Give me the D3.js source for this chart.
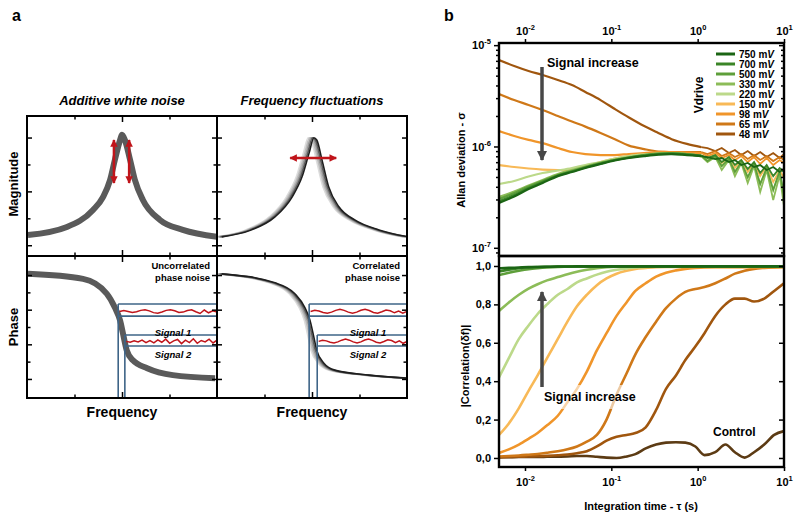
<!DOCTYPE html>
<html>
<head>
<meta charset="utf-8">
<script src="https://cdn.jsdelivr.net/npm/d3@7"></script>
<style>
  body { margin: 0; background: #fff; }
  svg { font-family: "Liberation Sans", Arial, sans-serif; font-weight: bold; }
</style>
</head>
<body>
<div id="fig"></div>
<script>
// ---------- panel a : schematic resonance (frequency in arbitrary units) ----------
const freqTicks = [1, 2, 3];
const magTicks = [0.4, 1.4, 2.4, 3.4, 4.4];
const phaseTicks = [0, 1, 2, 3, 4, 5, 6];

// additive white noise
const magFreqL = [0.02, 0.84, 1.39, 1.6, 1.75, 1.85, 1.96, 2.0, 2.06, 2.17, 2.27, 2.44, 2.8, 3.28, 4.0];
const magL     = [0.78, 1.08, 1.71, 2.19, 2.83, 3.57, 4.31, 4.5, 4.31, 3.57, 2.83, 2.08, 1.34, 0.97, 0.71];
const phFreqL  = [0.02, 1.18, 1.68, 1.85, 1.96, 2.02, 2.1, 2.23, 2.53, 3.07, 3.96];
const phL      = [6.07, 5.78, 4.92, 4.12, 3.37, 2.63, 1.65, 1.08, 0.62, 0.22, 0.04];

// frequency fluctuations
const magFreqR = [0.06, 0.69, 1.18, 1.54, 1.75, 1.9, 2.0, 2.06, 2.17, 2.31, 2.53, 2.86, 3.37, 4.0];
const magR     = [0.71, 0.97, 1.45, 2.19, 2.94, 3.83, 4.39, 4.31, 3.57, 2.57, 1.82, 1.34, 0.97, 0.71];
const phFreqR  = [0.06, 1.18, 1.6, 1.81, 1.92, 2.0, 2.06, 2.21, 2.44, 3.16, 4.0];
const phR      = [6.07, 5.55, 4.92, 4.12, 3.37, 2.4, 1.65, 0.91, 0.51, 0.22, 0.04];
const fluctShift = [-0.08, -0.05, -0.02, 0.01, 0.04];
const fluctGrey  = ["#dcdcdc", "#bdbdbd", "#999999", "#5e5e5e", "#1e1e1e"];

// read-out bands and phase signals
const band1 = [4.33, 3.63], band2 = [2.54, 1.90];
const cutUncorr = [1.92, 2.06], cutCorr = [1.94, 2.11];
const sig1Uncorr = [3.89, 3.95, 3.9, 3.84, 3.88, 3.96, 4.0, 3.93, 3.83, 3.8, 3.87, 3.96, 4.0, 3.94, 3.84, 3.86, 3.95, 3.99, 3.88, 3.78, 3.98, 3.82, 3.93, 3.86];
const sig2Uncorr = [2.17, 2.12, 2.2, 2.14, 2.24, 2.1, 2.22, 2.08, 2.26, 2.12, 2.3, 2.06, 2.2, 2.28, 2.04, 2.24, 2.1, 2.32, 2.06, 2.22, 2.14, 2.3, 2.08, 2.24];
const sig1Corr = [3.89, 3.96, 3.92, 3.84, 3.8, 3.86, 3.96, 4.02, 3.96, 3.86, 3.8, 3.86, 3.97, 4.02, 3.95, 3.84, 3.8, 3.88, 3.98, 3.94, 3.82, 3.92, 3.8, 3.9];
const sig2Corr = [2.17, 2.24, 2.2, 2.12, 2.08, 2.14, 2.24, 2.3, 2.24, 2.14, 2.08, 2.14, 2.25, 2.3, 2.23, 2.12, 2.08, 2.16, 2.26, 2.22, 2.1, 2.2, 2.06, 2.16];

// red arrows (data units)
const ampArrowF = [1.83, 2.15], ampArrowMag = [4.31, 2.71];
const freqArrowF = [1.54, 2.51], freqArrowMag = 3.64;

// ---------- panel b : Allan deviation and correlation ----------
const tauTicks = [0.01, 0.1, 1, 10];
const tauExps = ["-2", "-1", "0", "1"];
const allanTicks = [1e-7, 1e-6, 1e-5];
const allanExps = ["-7", "-6", "-5"];
const corrTicks = [0, 0.2, 0.4, 0.6, 0.8, 1.0];
const corrTickLabels = ["0,0", "0,2", "0,4", "0,6", "0,8", "1,0"];

const vdrive = ["750 mV", "700 mV", "500 mV", "330 mV", "220 mV", "150 mV", "98 mV", "65 mV", "48 mV"];
const vColors = ["#1b6514", "#3b8527", "#5e9f3a", "#8cbc58", "#bcd98a", "#f8b957", "#f0952a", "#cf7818", "#a0560e"];

const tauA = [0.005, 0.0075, 0.011, 0.016, 0.024, 0.035, 0.05, 0.075, 0.11, 0.16, 0.24, 0.35, 0.5, 0.75,
              1.1, 1.3, 1.6, 1.9, 2.3, 2.7, 3.2, 3.8, 4.5, 5.3, 6.3, 7.5, 8.9, 10];
const allan750 = [2.77e-7, 3.21e-7, 3.80e-7, 4.36e-7, 5.10e-7, 5.60e-7, 6.13e-7, 6.71e-7, 7.27e-7, 7.69e-7, 8.04e-7, 8.32e-7, 8.42e-7, 8.23e-7, 8.04e-7, 7.86e-7, 7.52e-7, 7.69e-7, 7.02e-7, 7.35e-7, 6.56e-7, 6.87e-7, 6.27e-7, 6.56e-7, 5.85e-7, 6.27e-7, 5.60e-7, 5.99e-7];
const allan700 = [2.89e-7, 3.31e-7, 3.89e-7, 4.46e-7, 5.17e-7, 5.66e-7, 6.20e-7, 6.79e-7, 7.35e-7, 7.78e-7, 8.14e-7, 8.42e-7, 8.51e-7, 8.32e-7, 8.14e-7, 7.69e-7, 8.23e-7, 7.02e-7, 7.86e-7, 6.56e-7, 7.35e-7, 5.99e-7, 7.02e-7, 5.47e-7, 6.56e-7, 5.10e-7, 6.13e-7, 5.60e-7];
const allan500 = [3.03e-7, 3.47e-7, 4.03e-7, 4.56e-7, 5.23e-7, 5.72e-7, 6.27e-7, 6.87e-7, 7.35e-7, 7.78e-7, 8.23e-7, 8.51e-7, 8.61e-7, 8.42e-7, 8.14e-7, 7.18e-7, 8.04e-7, 6.41e-7, 7.52e-7, 5.60e-7, 7.02e-7, 4.99e-7, 6.71e-7, 4.26e-7, 6.13e-7, 3.72e-7, 5.72e-7, 3.31e-7];
const allan330 = [3.17e-7, 3.59e-7, 4.11e-7, 4.67e-7, 5.35e-7, 5.85e-7, 6.34e-7, 6.94e-7, 7.44e-7, 7.86e-7, 8.23e-7, 8.51e-7, 8.61e-7, 8.42e-7, 8.04e-7, 7.02e-7, 7.86e-7, 5.85e-7, 7.35e-7, 5.10e-7, 6.87e-7, 4.36e-7, 6.41e-7, 3.55e-7, 5.85e-7, 2.96e-7, 5.23e-7, 2.58e-7];
const allan220 = [4.26e-7, 4.56e-7, 5.05e-7, 5.47e-7, 5.79e-7, 6.13e-7, 6.56e-7, 7.02e-7, 7.60e-7, 8.04e-7, 8.32e-7, 8.51e-7, 8.51e-7, 8.32e-7, 8.04e-7, 7.35e-7, 8.04e-7, 6.41e-7, 7.69e-7, 5.60e-7, 7.02e-7, 4.88e-7, 6.56e-7, 4.26e-7, 6.13e-7, 3.72e-7, 5.60e-7, 3.24e-7];
const allan150 = [6.56e-7, 6.27e-7, 6.06e-7, 5.92e-7, 5.85e-7, 5.85e-7, 6.41e-7, 7.02e-7, 7.60e-7, 8.04e-7, 8.32e-7, 8.51e-7, 8.61e-7, 8.42e-7, 8.14e-7, 7.69e-7, 8.23e-7, 6.87e-7, 7.69e-7, 6.13e-7, 7.35e-7, 5.60e-7, 6.87e-7, 5.10e-7, 6.41e-7, 4.46e-7, 5.85e-7, 4.88e-7];
const allan98  = [1.42e-6, 1.27e-6, 1.16e-6, 1.08e-6, 9.65e-7, 8.81e-7, 8.42e-7, 8.23e-7, 8.23e-7, 8.42e-7, 8.61e-7, 8.81e-7, 8.81e-7, 8.71e-7, 8.61e-7, 8.04e-7, 8.61e-7, 7.69e-7, 8.23e-7, 7.35e-7, 8.04e-7, 7.02e-7, 7.86e-7, 6.71e-7, 7.69e-7, 6.56e-7, 7.35e-7, 6.87e-7];
const allan65  = [3.29e-6, 2.87e-6, 2.57e-6, 2.29e-6, 2.00e-6, 1.76e-6, 1.57e-6, 1.36e-6, 1.18e-6, 1.02e-6, 9.43e-7, 8.91e-7, 8.81e-7, 8.81e-7, 8.81e-7, 8.42e-7, 9.01e-7, 8.04e-7, 8.61e-7, 7.86e-7, 8.42e-7, 7.52e-7, 8.23e-7, 7.35e-7, 8.04e-7, 7.18e-7, 7.86e-7, 7.35e-7];
const allan48  = [7.13e-6, 6.23e-6, 5.56e-6, 5.07e-6, 4.53e-6, 4.04e-6, 3.45e-6, 2.87e-6, 2.34e-6, 1.93e-6, 1.59e-6, 1.36e-6, 1.18e-6, 1.06e-6, 9.87e-7, 9.65e-7, 9.01e-7, 9.65e-7, 8.61e-7, 9.22e-7, 8.23e-7, 9.01e-7, 8.04e-7, 8.81e-7, 7.86e-7, 8.61e-7, 7.69e-7, 8.42e-7];

const tauC = [0.005, 0.0065, 0.0085, 0.011, 0.014, 0.018, 0.024, 0.031, 0.04, 0.052, 0.068, 0.088, 0.115, 0.15, 0.19,
              0.25, 0.33, 0.43, 0.56, 0.72, 0.94, 1.2, 1.6, 2.1, 2.7, 3.5, 4.5, 5.9, 7.7, 10];
const corr750 = [0.988, 0.990, 0.992, 0.994, 0.995, 0.996, 0.997, 0.997, 0.998, 0.998, 0.998, 0.998, 0.998, 0.998, 0.998, 0.998, 0.998, 0.998, 0.998, 0.998, 0.998, 0.998, 0.998, 0.998, 0.998, 0.998, 0.998, 0.998, 0.998, 0.998];
const corr700 = [0.972, 0.981, 0.988, 0.993, 0.995, 0.996, 0.997, 0.997, 0.998, 0.998, 0.998, 0.998, 0.998, 0.998, 0.998, 0.998, 0.998, 0.998, 0.998, 0.998, 0.998, 0.998, 0.998, 0.998, 0.998, 0.998, 0.998, 0.998, 0.998, 0.998];
const corr500 = [0.953, 0.965, 0.975, 0.983, 0.988, 0.992, 0.995, 0.996, 0.997, 0.997, 0.998, 0.998, 0.998, 0.998, 0.998, 0.998, 0.998, 0.998, 0.998, 0.998, 0.998, 0.998, 0.998, 0.998, 0.998, 0.998, 0.998, 0.998, 0.998, 0.998];
const corr330 = [0.766, 0.81, 0.85, 0.882, 0.905, 0.925, 0.942, 0.957, 0.97, 0.98, 0.988, 0.993, 0.996, 0.997, 0.997, 0.997, 0.997, 0.997, 0.997, 0.997, 0.997, 0.997, 0.997, 0.997, 0.997, 0.997, 0.997, 0.997, 0.997, 0.997];
const corr220 = [0.42, 0.52, 0.62, 0.69, 0.75, 0.80, 0.85, 0.88, 0.915, 0.935, 0.955, 0.97, 0.98, 0.987, 0.992, 0.995, 0.996, 0.996, 0.996, 0.996, 0.996, 0.996, 0.996, 0.996, 0.996, 0.996, 0.996, 0.996, 0.996, 0.996];
const corr150 = [0.12, 0.18, 0.26, 0.35, 0.43, 0.52, 0.62, 0.71, 0.79, 0.85, 0.90, 0.935, 0.96, 0.975, 0.985, 0.99, 0.994, 0.995, 0.995, 0.995, 0.995, 0.995, 0.995, 0.995, 0.995, 0.995, 0.995, 0.995, 0.995, 0.995];
const corr98  = [0.026, 0.045, 0.07, 0.10, 0.13, 0.17, 0.22, 0.29, 0.36, 0.45, 0.56, 0.65, 0.74, 0.81, 0.87, 0.91, 0.945, 0.965, 0.977, 0.985, 0.99, 0.993, 0.994, 0.994, 0.994, 0.994, 0.994, 0.994, 0.994, 0.994];
const corr65  = [0.008, 0.01, 0.013, 0.017, 0.021, 0.027, 0.035, 0.045, 0.06, 0.085, 0.12, 0.20, 0.33, 0.44, 0.54, 0.63, 0.71, 0.78, 0.83, 0.865, 0.88, 0.89, 0.91, 0.935, 0.96, 0.975, 0.985, 0.99, 0.993, 0.995];
const corr48  = [0.004, 0.005, 0.006, 0.008, 0.009, 0.011, 0.014, 0.018, 0.025, 0.035, 0.06, 0.09, 0.11, 0.12, 0.13, 0.16, 0.25, 0.36, 0.43, 0.51, 0.58, 0.65, 0.74, 0.80, 0.83, 0.83, 0.815, 0.83, 0.87, 0.91];
const corrCtl = [0.003, 0.004, 0.005, 0.005, 0.005, 0.006, 0.007, 0.008, 0.01, 0.01, 0.006, 0.002, 0.0, 0.008, 0.02, 0.05, 0.07, 0.08, 0.082, 0.08, 0.06, 0.015, 0.03, 0.07, 0.03, 0.002, 0.03, 0.07, 0.12, 0.14];
const ctlColor = "#5c3b14";

// ---------------------------------------------------------------
const svg = d3.select("#fig").append("svg").attr("width", 800).attr("height", 518);
const defs = svg.append("defs");

function clip(id, x0, y0, x1, y1) {
  defs.append("clipPath").attr("id", id).append("rect")
    .attr("x", x0).attr("y", y0).attr("width", x1 - x0).attr("height", y1 - y0);
  return `url(#${id})`;
}
function marker(id, color) {
  defs.append("marker").attr("id", id)
    .attr("viewBox", "0 0 10 10").attr("refX", 9).attr("refY", 5)
    .attr("markerWidth", 3).attr("markerHeight", 3)
    .attr("orient", "auto-start-reverse")
    .append("path").attr("d", "M0,0 L10,5 L0,10 z").attr("fill", color);
}
marker("redHead", "#c0141a");
marker("greyHead", "#474747");

// ----- panel a scales
const xAL = d3.scaleLinear().domain([0, 4]).range([27, 217]);
const xAR = d3.scaleLinear().domain([0, 4]).range([217, 407]);
const yMag = d3.scaleLinear().domain([0, 5.2]).range([256, 116]);
const yPh = d3.scaleLinear().domain([-1.1, 7.1]).range([398, 256]);

const boxes = [
  {x: xAL, y: yMag, id: "cMagL"}, {x: xAR, y: yMag, id: "cMagR"},
  {x: xAL, y: yPh, id: "cPhL"}, {x: xAR, y: yPh, id: "cPhR"}
];
boxes.forEach(b => {
  b.clip = clip(b.id, b.x.range()[0], b.y.range()[1], b.x.range()[1], b.y.range()[0]);
});

// magnitude, noisy
svg.append("path").attr("clip-path", boxes[0].clip)
  .datum(d3.zip(magFreqL, magL))
  .attr("fill", "none").attr("stroke", "#5a5a5a").attr("stroke-width", 6)
  .attr("d", d3.line().x(d => xAL(d[0])).y(d => yMag(d[1])).curve(d3.curveMonotoneX));

// magnitude, fluctuating frequency
fluctShift.forEach((s, i) => {
  svg.append("path").attr("clip-path", boxes[1].clip)
    .datum(d3.zip(magFreqR, magR))
    .attr("fill", "none").attr("stroke", fluctGrey[i]).attr("stroke-width", 1.6)
    .attr("d", d3.line().x(d => xAR(d[0] + s)).y(d => yMag(d[1])).curve(d3.curveMonotoneX));
});

// phase, noisy
svg.append("path").attr("clip-path", boxes[2].clip)
  .datum(d3.zip(phFreqL, phL))
  .attr("fill", "none").attr("stroke", "#5a5a5a").attr("stroke-width", 6)
  .attr("d", d3.line().x(d => xAL(d[0])).y(d => yPh(d[1])).curve(d3.curveMonotoneX));

fluctShift.forEach((s, i) => {
  svg.append("path").attr("clip-path", boxes[3].clip)
    .datum(d3.zip(phFreqR, phR))
    .attr("fill", "none").attr("stroke", fluctGrey[i]).attr("stroke-width", 1.6)
    .attr("d", d3.line().x(d => xAR(d[0] + s)).y(d => yPh(d[1])).curve(d3.curveMonotoneX));
});

// read-out bands + signals
function bands(xs, cut, s1, s2) {
  const g = svg.append("g").attr("stroke", "#3e6487").attr("stroke-width", 1.6).attr("fill", "none");
  [[band1, cut[0]], [band2, cut[1]]].forEach(([lv, c]) => {
    lv.forEach(v => g.append("line").attr("x1", xs(c)).attr("x2", xs(4)).attr("y1", yPh(v)).attr("y2", yPh(v)));
    g.append("line").attr("x1", xs(c)).attr("x2", xs(c)).attr("y1", yPh(lv[0])).attr("y2", yPh(-1.1));
  });
  [[s1, cut[0]], [s2, cut[1]]].forEach(([vals, c]) => {
    const xi = d3.scaleLinear().domain([0, vals.length - 1]).range([xs(c + 0.03), xs(4)]);
    svg.append("path").datum(vals)
      .attr("fill", "none").attr("stroke", "#c0141a").attr("stroke-width", 1.5)
      .attr("d", d3.line().x((d, i) => xi(i)).y(d => yPh(d)).curve(d3.curveLinear));
  });
}
bands(xAL, cutUncorr, sig1Uncorr, sig2Uncorr);
bands(xAR, cutCorr, sig1Corr, sig2Corr);

// frames + inward ticks
function frameA(xs, ys, yVals, yMajor) {
  const [x0, x1] = xs.range(), [y1, y0] = ys.range();
  const add = (axis, tr) => svg.append("g").attr("transform", tr).call(axis)
    .call(g => { g.select(".domain").remove(); g.selectAll("line").attr("stroke-width", 1.5); });
  const xMaj = [2], xMin = freqTicks.filter(v => v !== 2);
  const yMin = yVals.filter(v => !yMajor.includes(v));
  [[xMaj, 6], [xMin, 3.5]].forEach(([vals, len]) => {
    add(d3.axisTop(xs).tickValues(vals).tickSize(-len).tickFormat(""), `translate(0,${y0})`);
    add(d3.axisBottom(xs).tickValues(vals).tickSize(-len).tickFormat(""), `translate(0,${y1})`);
  });
  [[yMajor, 5], [yMin, 3.5]].forEach(([vals, len]) => {
    add(d3.axisLeft(ys).tickValues(vals).tickSize(-len).tickFormat(""), `translate(${x0},0)`);
    add(d3.axisRight(ys).tickValues(vals).tickSize(-len).tickFormat(""), `translate(${x1},0)`);
  });
  svg.append("rect").attr("x", x0).attr("y", y0).attr("width", x1 - x0).attr("height", y1 - y0)
    .attr("fill", "none").attr("stroke", "#000").attr("stroke-width", 2);
}
frameA(xAL, yMag, magTicks, [0.4, 2.4, 4.4]);
frameA(xAR, yMag, magTicks, [0.4, 2.4, 4.4]);
frameA(xAL, yPh, phaseTicks, [0, 2, 4, 6]);
frameA(xAR, yPh, phaseTicks, [0, 2, 4, 6]);

// red arrows
ampArrowF.forEach(f => {
  svg.append("line").attr("x1", xAL(f)).attr("x2", xAL(f))
    .attr("y1", yMag(ampArrowMag[0])).attr("y2", yMag(ampArrowMag[1]))
    .attr("stroke", "#c0141a").attr("stroke-width", 2.5)
    .attr("marker-start", "url(#redHead)").attr("marker-end", "url(#redHead)");
});
svg.append("line").attr("x1", xAR(freqArrowF[0])).attr("x2", xAR(freqArrowF[1]))
  .attr("y1", yMag(freqArrowMag)).attr("y2", yMag(freqArrowMag))
  .attr("stroke", "#c0141a").attr("stroke-width", 2.5)
  .attr("marker-start", "url(#redHead)").attr("marker-end", "url(#redHead)");

// panel a texts
const txt = (x, y, s, size, opts = {}) => {
  const t = svg.append("text").attr("x", x).attr("y", y).attr("font-size", size)
    .attr("text-anchor", opts.anchor || "start").text(s);
  if (opts.italic) t.attr("font-style", "italic");
  if (opts.rotate) t.attr("transform", `rotate(-90,${x},${y})`);
  return t;
};
txt(12, 21, "a", 16);
txt(444, 21, "b", 16);
txt(122, 105, "Additive white noise", 13, {anchor: "middle", italic: true});
txt(312, 105, "Frequency fluctuations", 13, {anchor: "middle", italic: true});
txt(18, 184, "Magnitude", 13, {anchor: "middle", rotate: true});
txt(18, 327, "Phase", 13, {anchor: "middle", rotate: true});
txt(122, 417, "Frequency", 14, {anchor: "middle"});
txt(312, 417, "Frequency", 14, {anchor: "middle"});
txt(210, 269, "Uncorrelated", 9.5, {anchor: "end"});
txt(210, 281, "phase noise", 9.5, {anchor: "end"});
txt(400, 269, "Correlated", 9.5, {anchor: "end"});
txt(400, 281, "phase noise", 9.5, {anchor: "end"});
[173, 368].forEach(cx => {
  txt(cx, 336, "Signal 1", 9.5, {anchor: "middle", italic: true});
  txt(cx, 357.5, "Signal 2", 9.5, {anchor: "middle", italic: true});
});

// ----- panel b scales
const xT = d3.scaleLog().domain([0.005, 10]).range([499, 784]);
const yA = d3.scaleLog().domain([8.3e-8, 1.05e-5]).range([256, 43]);
const yC = d3.scaleLinear().domain([-0.047, 1.052]).range([467, 256]);
const clipA = clip("cAllan", 499, 43, 784, 256);
const clipC = clip("cCorr", 499, 256, 784, 467);

const allanSets = [allan48, allan65, allan98, allan150, allan220, allan330, allan500, allan700, allan750];
const corrSets = [corrCtl, corr48, corr65, corr98, corr150, corr220, corr330, corr500, corr700, corr750];
const setColors = vColors.slice().reverse();

// smooth part up to 1 s, jagged noisy tail after
const tailStart = 14;
const smoothA = d3.line().x(d => xT(d[0])).y(d => yA(d[1])).curve(d3.curveCatmullRom);
const jaggedA = d3.line().x(d => xT(d[0])).y(d => yA(d[1])).curve(d3.curveLinear);
allanSets.forEach((vals, i) => {
  const pts = d3.zip(tauA, vals);
  const g = svg.append("g").attr("clip-path", clipA).attr("fill", "none")
    .attr("stroke", setColors[i]).attr("stroke-width", 2.2);
  g.append("path").attr("d", smoothA(pts.slice(0, tailStart + 1)));
  g.append("path").attr("stroke-width", 1.8).attr("d", jaggedA(pts.slice(tailStart)));
});

const lineC = d3.line().x((d, i) => xT(tauC[i])).y(d => yC(d)).curve(d3.curveMonotoneX);
corrSets.forEach((vals, i) => {
  svg.append("path").attr("clip-path", clipC).datum(vals)
    .attr("fill", "none").attr("stroke", i === 0 ? ctlColor : setColors[i - 1])
    .attr("stroke-width", 2.6).attr("d", lineC);
});

// axes for panel b
function styleAxis(g) {
  g.attr("font-family", null).attr("font-size", 11);
  g.select(".domain").remove();
  g.selectAll("line").attr("stroke-width", 1.5);
  g.selectAll("text").attr("fill", "#000");
}
function sup(g, exps) {
  g.selectAll(".tick text").each(function(d, i) {
    const t = d3.select(this).text(null);
    t.append("tspan").text("10");
    t.append("tspan").attr("dy", -5).attr("font-size", 7.5).text(exps[i]);
  });
}
const minorA = yA.ticks().filter(v => !allanTicks.some(t => Math.abs(t - v) / t < 1e-6));

svg.append("g").attr("transform", "translate(0,43)")
  .call(d3.axisTop(xT).tickValues(tauTicks).tickSize(4).tickPadding(4))
  .call(styleAxis).call(g => sup(g, tauExps));
svg.append("g").attr("transform", "translate(0,467)")
  .call(d3.axisBottom(xT).tickValues(tauTicks).tickSize(4).tickPadding(7))
  .call(styleAxis).call(g => sup(g, tauExps));
svg.append("g").attr("transform", "translate(499,0)")
  .call(d3.axisLeft(yA).tickValues(allanTicks).tickSize(5).tickPadding(3))
  .call(styleAxis).call(g => sup(g, allanExps));
svg.append("g").attr("transform", "translate(499,0)")
  .call(d3.axisLeft(yA).tickValues(minorA).tickSize(3).tickFormat("")).call(styleAxis);
svg.append("g").attr("transform", "translate(784,0)")
  .call(d3.axisRight(yA).tickValues(allanTicks).tickSize(-5).tickFormat("")).call(styleAxis);
svg.append("g").attr("transform", "translate(784,0)")
  .call(d3.axisRight(yA).tickValues(minorA).tickSize(-3).tickFormat("")).call(styleAxis);
svg.append("g").attr("transform", "translate(499,0)")
  .call(d3.axisLeft(yC).tickValues(corrTicks).tickSize(5).tickPadding(3)
    .tickFormat((d, i) => corrTickLabels[i]))
  .call(styleAxis);
svg.append("g").attr("transform", "translate(784,0)")
  .call(d3.axisRight(yC).tickValues(corrTicks).tickSize(-5).tickFormat("")).call(styleAxis);

[[43, 256], [256, 467]].forEach(([y0, y1]) => {
  svg.append("rect").attr("x", 499).attr("y", y0).attr("width", 285).attr("height", y1 - y0)
    .attr("fill", "none").attr("stroke", "#000").attr("stroke-width", 2.4);
});

// legend
const leg = svg.append("g");
vdrive.forEach((s, i) => {
  const y = 54 + i * 10;
  leg.append("line").attr("x1", 716).attr("x2", 735).attr("y1", y).attr("y2", y)
    .attr("stroke", vColors[i]).attr("stroke-width", 3);
  const t = leg.append("text").attr("x", 739).attr("y", y + 3.7).attr("font-size", 10)
    .text(s.replace("V", ""));
  t.append("tspan").attr("font-style", "italic").text("V");
});
txt(703, 95, "Vdrive", 12, {anchor: "middle", rotate: true});

// annotations
svg.append("line").attr("x1", 542).attr("x2", 542).attr("y1", 67).attr("y2", 160)
  .attr("stroke", "#474747").attr("stroke-width", 3.5).attr("marker-end", "url(#greyHead)");
txt(547, 67, "Signal increase", 12.5);

svg.append("rect").attr("x", 541).attr("y", 385).attr("width", 104).attr("height", 24)
  .attr("fill", "#fff").attr("opacity", 0.6);
svg.append("line").attr("x1", 542).attr("x2", 542).attr("y1", 387).attr("y2", 292)
  .attr("stroke", "#474747").attr("stroke-width", 3.5).attr("marker-end", "url(#greyHead)");
txt(544, 401, "Signal increase", 12.5);
txt(713, 436, "Control", 12);

txt(465, 160, "Allan deviation - σ", 11, {anchor: "middle", rotate: true});
txt(469, 366, "|Correlation(δf)|", 11, {anchor: "middle", rotate: true});
txt(641, 510, "Integration time - τ (s)", 11, {anchor: "middle"});
</script>
</body>
</html>
